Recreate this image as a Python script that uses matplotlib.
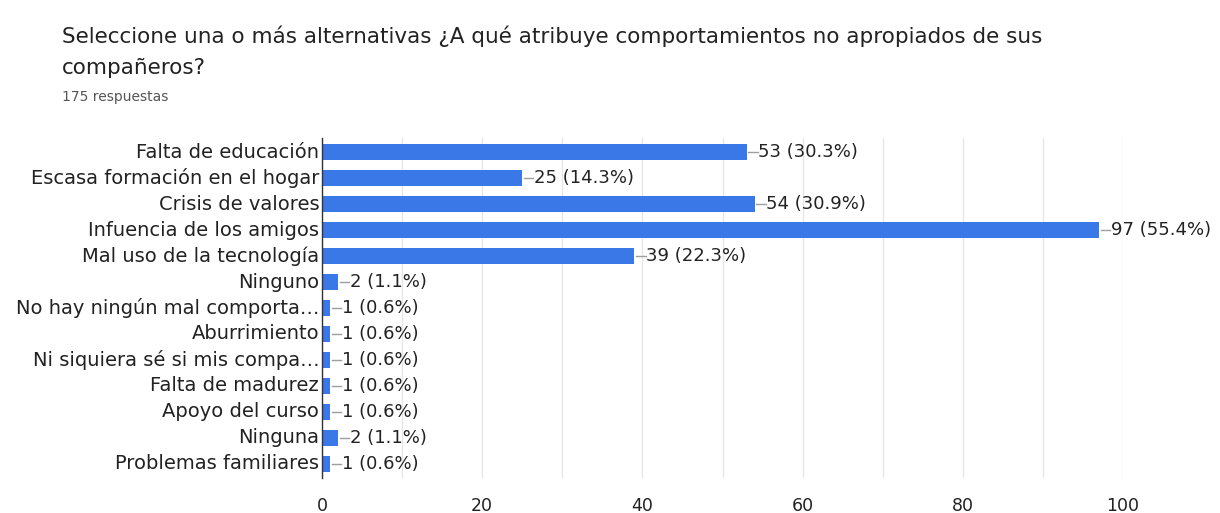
import matplotlib
matplotlib.use("Agg")
import matplotlib.pyplot as plt
import matplotlib.transforms as mtransforms
import numpy as np

# ── data ──────────────────────────────────────────────────────────────────────
labels = [
    "Falta de educación",
    "Escasa formación en el hogar",
    "Crisis de valores",
    "Infuencia de los amigos",
    "Mal uso de la tecnología",
    "Ninguno",
    "No hay ningún mal comporta…",
    "Aburrimiento",
    "Ni siquiera sé si mis compa…",
    "Falta de madurez",
    "Apoyo del curso",
    "Ninguna",
    "Problemas familiares",
]
counts = [53, 25, 54, 97, 39, 2, 1, 1, 1, 1, 1, 2, 1]
pcts = [30.3, 14.3, 30.9, 55.4, 22.3, 1.1, 0.6, 0.6, 0.6, 0.6, 0.6, 1.1, 0.6]
xticks = [0, 20, 40, 60, 80, 100]

TITLE_1 = "Seleccione una o más alternativas ¿A qué atribuye comportamientos no apropiados de sus"
TITLE_2 = "compañeros?"
SUBTITLE = "175 respuestas"
BAR_COLOR = "#3b78e7"
TEXT_COLOR = "#222222"

plt.rcParams["font.family"] = ["DejaVu Sans"]

fig = plt.figure(figsize=(12.2, 5.13), dpi=100)
ax = fig.add_axes([322 / 1220, 1 - 478 / 513, (1123 - 322) / 1220, (478 - 138) / 513])

y = np.arange(len(labels))
ax.barh(y, counts, height=0.62, color=BAR_COLOR, zorder=3)

# connector + value labels
for yi, c, p in zip(y, counts, pcts):
    ax.plot([c + 0.2, c + 1.4], [yi, yi], color="#9e9e9e", lw=1, zorder=3)
    ax.text(c + 1.45, yi, f"{c} ({p}%)", va="center", ha="left",
            fontsize=13, color=TEXT_COLOR)

ax.set_ylim(len(labels) - 0.45, -0.55)
ax.set_xlim(0, 100)
ax.set_yticks(y)
ax.set_yticklabels(labels, fontsize=14, color=TEXT_COLOR, va="center")
# nudge the category labels up a little so they sit level with the bars
shift = mtransforms.ScaledTranslation(0, 1.5 / 72, fig.dpi_scale_trans)
for lab in ax.get_yticklabels():
    lab.set_transform(lab.get_transform() + shift)
ax.set_xticks(xticks)
ax.set_xticklabels([str(t) for t in xticks], fontsize=12.5, color=TEXT_COLOR)
ax.set_xticks(np.arange(10, 100, 10), minor=True)
ax.tick_params(axis="both", length=0, which="both")
ax.tick_params(axis="y", pad=2)
ax.tick_params(axis="x", pad=14)

ax.grid(axis="x", which="both", color="#e6e6e6", lw=1, zorder=0)
for s in ["top", "right", "bottom"]:
    ax.spines[s].set_visible(False)
ax.spines["left"].set_color("#333333")
ax.spines["left"].set_linewidth(1)
ax.spines["left"].set_zorder(4)

fig.text(62 / 1220, 1 - 36 / 513, TITLE_1, fontsize=15.5, color=TEXT_COLOR,
         va="center", ha="left")
fig.text(62 / 1220, 1 - 68 / 513, TITLE_2, fontsize=15.5, color=TEXT_COLOR,
         va="center", ha="left")
fig.text(62 / 1220, 1 - 97 / 513, SUBTITLE, fontsize=10, color="#555555",
         va="center", ha="left")

fig.savefig("out.png", dpi=100)
